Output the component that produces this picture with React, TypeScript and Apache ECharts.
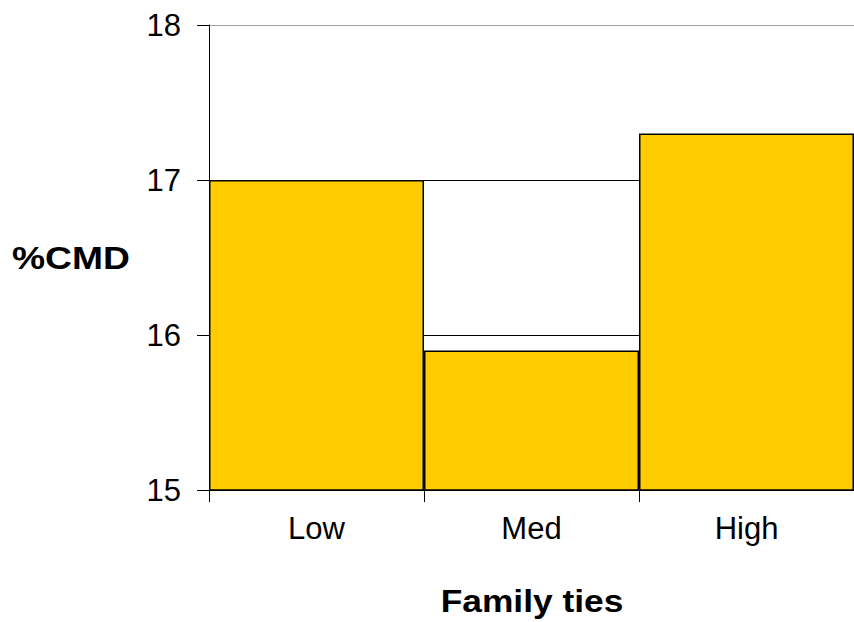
import React, { useEffect, useRef } from "react";
import * as echarts from "echarts";

const categories = ["Low", "Med", "High"];
const cmdValues = [17.0, 15.9, 17.3];
const yTicks = [15, 16, 17, 18];
const yAxisTitle = "%CMD";
const xAxisTitle = "Family ties";

export default function App() {
  const ref = useRef<HTMLDivElement>(null);
  useEffect(() => {
    if (!ref.current) return;
    const chart = echarts.init(ref.current, null, { renderer: "svg" });
    const font = "Liberation Sans, Arial, sans-serif";
    chart.setOption({
      animation: false,
      backgroundColor: "#ffffff",
      grid: { left: 209, width: 650, top: 25, height: 465, containLabel: false },
      xAxis: {
        type: "category",
        data: categories,
        axisLine: { show: true, lineStyle: { color: "#000", width: 1 } },
        axisTick: { show: true, length: 12, lineStyle: { color: "#000" } },
        axisLabel: { color: "#000", fontSize: 31, fontFamily: font, margin: 23 },
        splitLine: { show: false },
      },
      yAxis: {
        type: "value",
        min: yTicks[0],
        max: yTicks[yTicks.length - 1],
        interval: 1,
        axisLine: { show: true, lineStyle: { color: "#000", width: 1 } },
        axisTick: { show: true, length: 12, inside: false, lineStyle: { color: "#000" } },
        axisLabel: { color: "#000", fontSize: 31, fontFamily: font, margin: 28 },
        splitLine: {
          show: true,
          lineStyle: { color: ["#000", "#000", "#000", "#a0a0a0"], width: 1 },
        },
      },
      series: [
        {
          type: "bar",
          data: cmdValues,
          barCategoryGap: "0%",
          itemStyle: { color: "#FFCC00", borderColor: "#000", borderWidth: 1.5 },
        },
      ],
      graphic: [
        {
          type: "text",
          x: 12,
          y: 258,
          scaleX: 1.2,
          style: {
            text: yAxisTitle,
            fontSize: 31,
            fontWeight: "bold",
            fontFamily: font,
            fill: "#000",
            align: "left",
            verticalAlign: "middle",
          },
        },
        {
          type: "text",
          x: 532,
          y: 601,
          scaleX: 1.14,
          style: {
            text: xAxisTitle,
            fontSize: 31,
            fontWeight: "bold",
            fontFamily: font,
            fill: "#000",
            align: "center",
            verticalAlign: "middle",
          },
        },
      ],
    });
    return () => chart.dispose();
  }, []);
  return <div ref={ref} style={{ width: 854, height: 622, position: "absolute", left: 0, top: 0 }} />;
}
